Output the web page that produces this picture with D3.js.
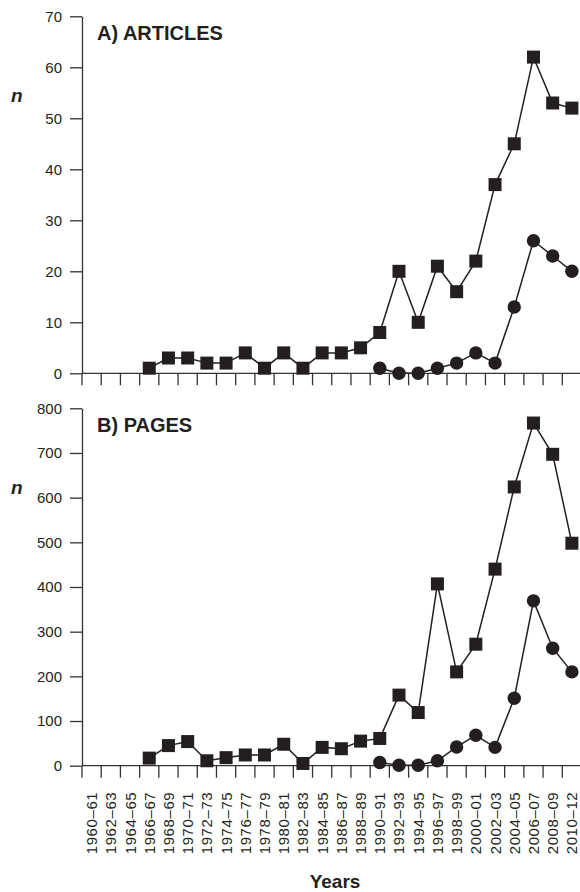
<!DOCTYPE html>
<html>
<head>
<meta charset="utf-8">
<script src="https://cdn.jsdelivr.net/npm/d3@7"></script>
<style>
  body { margin: 0; background: #fff; }
  svg { display: block; font-family: "Liberation Sans", Arial, sans-serif; }
  .axis path, .axis line { stroke: #333; stroke-width: 1.3; }
  .axis text { fill: #231f20; font-size: 15px; }
</style>
</head>
<body>
<div id="chart"></div>
<script>
// categories (two-year periods)
const periods = ["1960–61","1962–63","1964–65","1966–67","1968–69","1970–71","1972–73",
  "1974–75","1976–77","1978–79","1980–81","1982–83","1984–85","1986–87","1988–89",
  "1990–91","1992–93","1994–95","1996–97","1998–99","2000–01","2002–03","2004–05",
  "2006–07","2008–09","2010–12"];

// A) articles, squares and circles
const articlesSquares = [null,null,null,1,3,3,2,2,4,1,4,1,4,4,5,8,20,10,21,16,22,37,45,62,53,52];
const articlesCircles = [null,null,null,null,null,null,null,null,null,null,null,null,null,null,null,
  1,0,0,1,2,4,2,13,26,23,20];

// B) pages
const pagesSquares = [null,null,null,17,45,54,11,18,24,24,48,5,41,38,55,61,158,119,407,210,272,440,624,767,697,498];
const pagesCircles = [null,null,null,null,null,null,null,null,null,null,null,null,null,null,null,
  7,1,1,11,42,68,41,151,369,263,210];

const ticksA = [0,10,20,30,40,50,60,70];
const ticksB = [0,100,200,300,400,500,600,700,800];

const width = 580, height = 892;
const left = 82, right = 581.5;
const ink = "#231f20";

const svg = d3.select("#chart").append("svg")
  .attr("width", width).attr("height", height);

const xScale = d3.scaleBand().domain(periods).range([left, right]).padding(0);
const xc = d => xScale(d) + xScale.bandwidth() / 2;

function panel(opts) {
  const { sq, ci, ticks, max, top, bottom, title, labels } = opts;
  const yScale = d3.scaleLinear().domain([0, max]).range([bottom, top]);

  // y axis
  svg.append("g").attr("class", "axis")
    .attr("transform", `translate(${left},0)`)
    .call(d3.axisLeft(yScale).tickValues(ticks).tickSize(12).tickSizeOuter(0).tickPadding(8));

  // x axis line + boundary ticks
  const xg = svg.append("g").attr("class", "axis");
  xg.append("line").attr("x1", left).attr("x2", 580).attr("y1", bottom).attr("y2", bottom);
  xg.selectAll(".xt").data(periods).enter().append("line")
    .attr("x1", d => xScale(d)).attr("x2", d => xScale(d))
    .attr("y1", bottom).attr("y2", bottom + 12);

  if (labels) {
    svg.append("g").selectAll("text").data(periods).enter().append("text")
      .attr("transform", d => `translate(${xc(d) + 5.5},${bottom + 26}) rotate(-90)`)
      .attr("text-anchor", "end")
      .attr("font-size", 15)
      .attr("letter-spacing", 0.6)
      .attr("fill", ink)
      .text(d => d);
  }

  // title
  svg.append("text").attr("x", 97).attr("y", top + 24)
    .attr("font-size", 20).attr("font-weight", "bold").attr("fill", ink)
    .text(title);

  // "n" label
  svg.append("text").attr("x", 11).attr("y", top + 86)
    .attr("font-size", 19).attr("font-weight", "bold").attr("font-style", "italic")
    .attr("fill", ink).text("n");

  const line = d3.line()
    .defined(d => d[1] != null)
    .x(d => xc(d[0]))
    .y(d => yScale(d[1]));

  [sq, ci].forEach(series => {
    const pts = periods.map((p, i) => [p, series[i]]);
    svg.append("path").datum(pts)
      .attr("d", line).attr("fill", "none")
      .attr("stroke", ink).attr("stroke-width", 1.5);
  });

  const sqPts = periods.map((p, i) => [p, sq[i]]).filter(d => d[1] != null);
  svg.append("g").selectAll("rect").data(sqPts).enter().append("rect")
    .attr("x", d => xc(d[0]) - 6.5).attr("y", d => yScale(d[1]) - 6.5)
    .attr("width", 13).attr("height", 13).attr("fill", ink);

  const ciPts = periods.map((p, i) => [p, ci[i]]).filter(d => d[1] != null);
  svg.append("g").selectAll("circle").data(ciPts).enter().append("circle")
    .attr("cx", d => xc(d[0])).attr("cy", d => yScale(d[1]))
    .attr("r", 6.7).attr("fill", ink);
}

panel({ sq: articlesSquares, ci: articlesCircles, ticks: ticksA, max: 70,
  top: 16.3, bottom: 373.3, title: "A) ARTICLES", labels: false });
panel({ sq: pagesSquares, ci: pagesCircles, ticks: ticksB, max: 800,
  top: 408.3, bottom: 765.7, title: "B) PAGES", labels: true });

svg.append("text").attr("x", 335).attr("y", 888)
  .attr("text-anchor", "middle").attr("font-size", 19).attr("font-weight", "bold")
  .attr("fill", ink).text("Years");
</script>
</body>
</html>
